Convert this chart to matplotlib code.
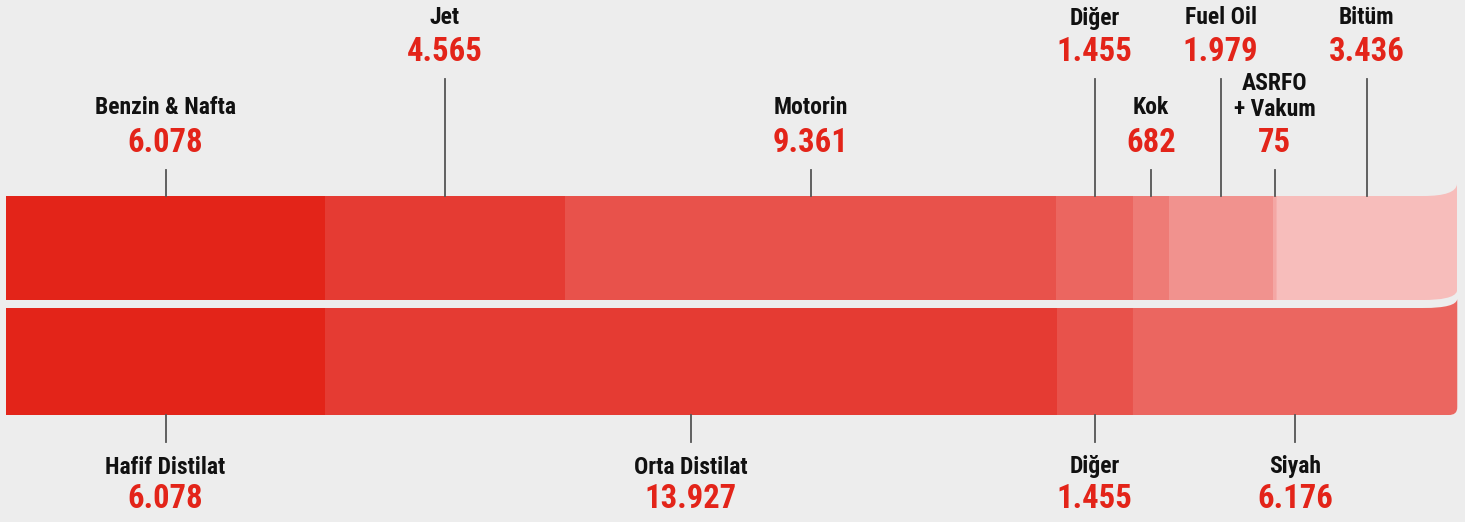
import matplotlib.pyplot as plt
from matplotlib.path import Path
from matplotlib.patches import PathPatch
import matplotlib.font_manager as fm

# Data
top_names = ['Benzin & Nafta', 'Jet', 'Motorin', 'Diğer', 'Kok', 'Fuel Oil', 'ASRFO\n+ Vakum', 'Bitüm']
top_values = [6078, 4565, 9361, 1455, 682, 1979, 75, 3436]
top_colors = ['#E32419', '#E53B33', '#E8524B', '#EB6660', '#EE7B76', '#F1928E', '#F4A7A4', '#F7BDBB']
top_high = [False, True, False, True, False, True, False, True]  # label in upper row

bot_names = ['Hafif Distilat', 'Orta Distilat', 'Diğer', 'Siyah']
bot_values = [6078, 13927, 1455, 6176]
bot_colors = ['#E32419', '#E53B33', '#E8524B', '#EB6660']

bg = '#EDEDED'
red = '#E32419'

# condensed bold face, first one that is installed
names = {f.name for f in fm.fontManager.ttflist}
fam = ['DejaVu Sans']
for cand in ['Roboto Condensed', 'Liberation Sans Narrow', 'Roboto']:
    if cand in names:
        fam = [cand, 'DejaVu Sans']
        break


def fmt(v):
    return f'{v:,}'.replace(',', '.')


total = sum(top_values)
px = 1451 / total  # pixels per unit
fig = plt.figure(figsize=(14.65, 5.22), dpi=100, facecolor=bg)
ax = fig.add_axes([0, 0, 1, 1])
ax.set_facecolor(bg)
ax.set_xlim(-6 / px, total + 8 / px)
ax.set_ylim(522, 0)
ax.axis('off')

c = 34 / px  # length of the curl at the right end


def bars(values, colors, y0, y1, top):
    left = 0
    centers = []
    for i, (v, col) in enumerate(zip(values, colors)):
        centers.append(left + v / 2)
        if i < len(values) - 1:
            ax.barh((y0 + y1) / 2, v, height=y1 - y0, left=left, color=col, linewidth=0)
        else:
            xe = left + v
            if top:
                verts = [(left, y0), (xe - c, y0), (xe - 0.35 * c, y0), (xe - 0.02 * c, y0 - 4), (xe, y0 - 12),
                         (xe, y1 - 9), (xe - 0.05 * c, y1 - 2), (xe - 0.5 * c, y1), (xe - c, y1), (left, y1), (left, y0)]
            else:
                verts = [(left, y0), (xe - c, y0), (xe - 0.35 * c, y0), (xe - 0.02 * c, y0 - 3), (xe, y0 - 9),
                         (xe, y1 - 8), (xe, y1 - 2), (xe - 0.1 * c, y1), (xe - 0.25 * c, y1), (left, y1), (left, y0)]
            codes = [Path.MOVETO, Path.LINETO, Path.CURVE4, Path.CURVE4, Path.CURVE4,
                     Path.LINETO, Path.CURVE4, Path.CURVE4, Path.CURVE4, Path.LINETO, Path.CLOSEPOLY]
            ax.add_patch(PathPatch(Path(verts, codes), facecolor=col, edgecolor='none'))
        left += v
    return centers


tc = bars(top_values, top_colors, 196, 300, True)
bc = bars(bot_values, bot_colors, 308, 415, False)

name_kw = dict(ha='center', va='center', fontsize=17, fontweight='bold', color='#111111', family=fam)
val_kw = dict(ha='center', va='center', fontsize=23.5, fontweight='bold', color=red, family=fam)

for x, n, v, hi in zip(tc, top_names, top_values, top_high):
    if hi:
        ax.plot([x, x], [79, 196], color='#555555', lw=1.3)
        ax.text(x, 18, n, **name_kw)
        ax.text(x, 52, fmt(v), **val_kw)
    else:
        ax.plot([x, x], [170, 196], color='#555555', lw=1.3)
        if '\n' in n:
            a, b = n.split('\n')
            ax.text(x, 84, a, **name_kw)
            ax.text(x, 109, b, **name_kw)
        else:
            ax.text(x, 108, n, **name_kw)
        ax.text(x, 143, fmt(v), **val_kw)

for x, n, v in zip(bc, bot_names, bot_values):
    ax.plot([x, x], [415, 442], color='#555555', lw=1.3)
    ax.text(x, 467, n, **name_kw)
    ax.text(x, 499, fmt(v), **val_kw)

fig.savefig('out.png', dpi=100, facecolor=bg)
